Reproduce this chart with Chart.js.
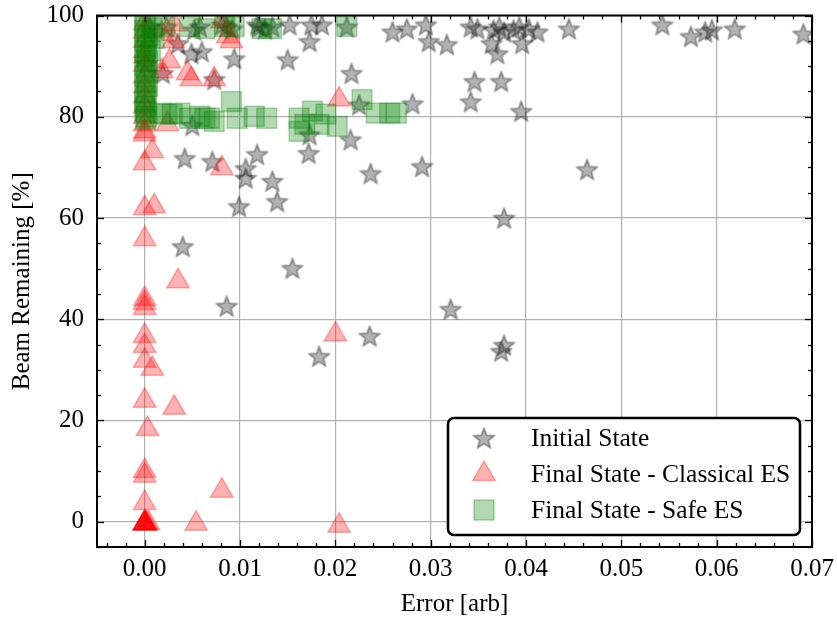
<!DOCTYPE html>
<html>
<head>
<meta charset="utf-8">
<title>Beam Remaining vs Error</title>
<style>
  html, body { margin: 0; background: #fff; }
  #wrap { width: 837px; height: 619px; }
</style>
</head>
<body>
<div id="wrap"><canvas id="chart" width="837" height="619"></canvas></div>
<script src="https://cdn.jsdelivr.net/npm/chart.js@4.4.1/dist/chart.umd.min.js"></script>
<script>
// initial state, before optimisation
const initialX = [0.0023, 0.0052, 0.0058, 0.0081, 0.0086, 0.0092, 0.0118, 0.0126, 0.0120, 0.0134,
  0.0152, 0.0175, 0.0186, 0.0212, 0.0049, 0.0060, 0.0094, 0.0002, 0.0019, 0.0073,
  0.0173, 0.0150, 0.0217, 0.0260, 0.0275, 0.0295, 0.0298, 0.0317, 0.0342, 0.0349,
  0.0366, 0.0372, 0.0377, 0.0364, 0.0370, 0.0393, 0.0396, 0.0403, 0.0412, 0.0387,
  0.0445, 0.0543, 0.0573, 0.0588, 0.0595, 0.0619, 0.0691, 0.0346, 0.0374, 0.0342,
  0.0395, 0.0225, 0.0281, 0.0050, 0.0173, 0.0216, 0.0172, 0.0042, 0.0071, 0.0106,
  0.0106, 0.0118, 0.0134, 0.0139, 0.0099, 0.0237, 0.0291, 0.0464, 0.0377, 0.0040,
  0.0155, 0.0086, 0.0321, 0.0236, 0.0183, 0.0377, 0.0374, 0.0005, 0.0035];
const initialY = [97.8, 97.2, 97.8, 98.2, 97.8, 97.4, 98.2, 97.4, 97.8, 97.8,
  98.2, 98.2, 98.2, 97.8, 92.5, 92.9, 91.5, 90.5, 88.6, 87.4,
  94.9, 91.3, 88.6, 96.8, 97.4, 98.2, 94.9, 94.3, 97.8, 97.4,
  97.2, 97.8, 96.8, 94.5, 92.5, 97.8, 94.5, 97.4, 96.8, 97.2,
  97.4, 98.2, 95.9, 96.8, 97.2, 97.4, 96.4, 87.0, 87.0, 83.0,
  81.1, 82.4, 82.6, 78.3, 76.5, 75.5, 72.8, 71.8, 71.2, 69.8,
  67.9, 72.6, 67.3, 63.3, 62.3, 68.8, 70.2, 69.6, 60.0, 54.4,
  50.1, 42.6, 42.0, 36.7, 32.7, 34.9, 33.7, 97.8, 94.5];

// final state, classical extremum seeking
const classicalX = [0, 0, 0, 0, 0, 0, 0, 0, 0, 0,
  0, 0, 0, 0, 0, 0, 0, 0, 0, 0,
  0, 0, 0, 0, 0, 0, 0, 0, 0, 0,
  0, 0, 0, 0.0008, 0.0024, 0.0018, 0.0031, 0.0030, 0.0026, 0.0018,
  0.0045, 0.0049, 0.0073, 0.0081, 0.0087, 0.0091, 0.0081, 0.0010, 0.0035, 0.0008,
  0.0031, 0.0003, 0.0081, 0.0054, 0.0204, 0.0200, 0.0204, 0.0002, 0.0004];
const classicalY = [98.5, 96.8, 95.0, 93.0, 91.9, 90.3, 88.0, 86.0, 84.0, 82.0,
  80.0, 78.5, 77.1, 76.5, 70.8, 61.9, 55.8, 44.0, 43.2, 42.2,
  36.7, 34.7, 31.8, 23.9, 10.0, 9.1, 3.7, -0.3, -0.3, -0.3,
  -0.3, -0.3, -0.3, 73.2, 78.5, 96.4, 98.2, 94.9, 90.9, 89.0,
  88.6, 87.4, 87.4, 98.8, 95.9, 94.9, 69.8, 62.3, 47.5, 30.2,
  22.5, 18.3, 6.1, -0.4, -0.8, 37.0, 83.4, -0.3, -0.3];

// final state, safe extremum seeking
const safeX = [0, 0.0001, 0, 0.0003, 0, 0.0002, 0, 0.0001, 0.0003, 0,
  0.0002, 0, 0.0001, 0.0003, 0, 0.0002, 0, 0.0001, 0, 0.0002,
  0.0001, 0.0008, 0.0010, 0.0006,
  0.0021, 0.0047, 0.0063, 0.0084, 0.0094, 0.0123, 0.0133, 0.0212,
  0.0016, 0.0023, 0.0029, 0.0037, 0.0047, 0.0058, 0.0063, 0.0068, 0.0073, 0.0091,
  0.0097, 0.0115, 0.0128, 0.0162, 0.0162, 0.0176, 0.0183, 0.0190, 0.0202, 0.0228,
  0.0243, 0.0257, 0.0264, 0.0168];
const safeY = [99.0, 98.0, 97.0, 96.0, 95.0, 94.0, 93.0, 92.0, 91.0, 90.0,
  89.0, 88.0, 87.0, 86.0, 85.0, 84.0, 83.0, 82.0, 81.0, 80.0,
  79.5, 97.5, 95.5, 93.0,
  97.8, 97.8, 97.4, 97.8, 97.8, 97.4, 97.4, 97.8,
  80.7, 80.5, 80.5, 80.7, 79.7, 80.1, 79.7, 79.7, 79.1, 83.0,
  79.7, 80.1, 79.7, 79.7, 77.1, 81.1, 78.5, 80.5, 78.1, 83.4,
  80.7, 80.7, 80.7, 78.5];

const xTicks = [0, 0.01, 0.02, 0.03, 0.04, 0.05, 0.06, 0.07];
const yTicks = [0, 20, 40, 60, 80, 100];
const seriesNames = ['Initial State', 'Final State - Classical ES', 'Final State - Safe ES'];

const FONT = "'Liberation Serif', 'DejaVu Serif', serif";
const grey = 'rgba(0,0,0,0.3)';
const red = 'rgba(255,0,0,0.3)';
const green = 'rgba(0,128,0,0.3)';

const pts = (xs, ys) => xs.map((x, i) => ({ x, y: ys[i] }));

// five-pointed star marker, drawn once and reused as a point image
function makeStar(r) {
  const c = document.createElement('canvas');
  const s = Math.ceil(r * 2 + 4);
  c.width = c.height = s;
  const g = c.getContext('2d');
  g.beginPath();
  for (let i = 0; i < 10; i++) {
    const rr = i % 2 ? r * 0.42 : r;
    const a = -Math.PI / 2 + i * Math.PI / 5;
    g.lineTo(s / 2 + rr * Math.cos(a), s / 2 + rr * Math.sin(a) + r * 0.1);
  }
  g.closePath();
  g.fillStyle = grey; g.fill();
  g.strokeStyle = grey; g.lineWidth = 2; g.lineJoin = 'round'; g.stroke();
  return c;
}
const star = makeStar(11);

// inward ticks on all four sides plus the black frame
const frame = {
  id: 'frame',
  afterDatasetsDraw(chart) {
    const { ctx, chartArea: a, scales: { x, y } } = chart;
    ctx.save();
    ctx.strokeStyle = '#000';
    ctx.lineWidth = 1.3;
    const seg = (x1, y1, x2, y2) => { ctx.beginPath(); ctx.moveTo(x1, y1); ctx.lineTo(x2, y2); ctx.stroke(); };
    for (let v = -0.004; v < 0.0701; v += 0.002) {
      const p = Math.round(x.getPixelForValue(v)) + 0.5;
      const major = xTicks.some(t => Math.abs(t - v) < 1e-6);
      const len = major ? 7 : 4;
      seg(p, a.bottom, p, a.bottom - len);
      seg(p, a.top, p, a.top + len);
    }
    for (let v = -5; v <= 100; v += 5) {
      const p = Math.round(y.getPixelForValue(v)) + 0.5;
      const len = yTicks.includes(v) ? 7 : 4;
      seg(a.left, p, a.left + len, p);
      seg(a.right, p, a.right - len, p);
    }
    ctx.lineWidth = 2;
    ctx.strokeRect(a.left, a.top, a.right - a.left, a.bottom - a.top);
    ctx.restore();
  }
};

// boxed legend sitting inside the plot, lower right
const boxLegend = {
  id: 'boxLegend',
  afterDraw(chart) {
    const ctx = chart.ctx;
    const bx = 448, by = 418, bw = 352, bh = 117;
    ctx.save();
    ctx.beginPath();
    ctx.roundRect(bx, by, bw, bh, 6);
    ctx.fillStyle = '#fff'; ctx.fill();
    ctx.lineWidth = 2.5; ctx.strokeStyle = '#000'; ctx.stroke();
    const rows = [438, 474, 510];
    const mx = 484;
    // star
    ctx.drawImage(star, mx - star.width / 2, rows[0] - star.height / 2);
    // triangle
    const r = 13;
    ctx.beginPath();
    ctx.moveTo(mx, rows[1] - r);
    ctx.lineTo(mx + r * 0.866, rows[1] + r / 2);
    ctx.lineTo(mx - r * 0.866, rows[1] + r / 2);
    ctx.closePath();
    ctx.fillStyle = red; ctx.fill();
    ctx.strokeStyle = red; ctx.lineWidth = 1.5; ctx.stroke();
    // square
    ctx.beginPath();
    ctx.rect(mx - 10, rows[2] - 10, 20, 20);
    ctx.fillStyle = green; ctx.fill();
    ctx.strokeStyle = green; ctx.stroke();
    ctx.fillStyle = '#000';
    ctx.font = '25.5px ' + FONT;
    ctx.textBaseline = 'middle';
    seriesNames.forEach((s, i) => ctx.fillText(s, 531, rows[i] + 1));
    ctx.restore();
  }
};

const tickFont = { family: FONT, size: 25 };

new Chart(document.getElementById('chart'), {
  type: 'scatter',
  data: {
    datasets: [
      { label: seriesNames[0], data: pts(initialX, initialY), pointStyle: star, pointRadius: 11, order: 3, clip: 0 },
      { label: seriesNames[1], data: pts(classicalX, classicalY), pointStyle: 'triangle', pointRadius: 13,
        backgroundColor: red, borderColor: red, borderWidth: 1.5, order: 2, clip: 0 },
      { label: seriesNames[2], data: pts(safeX, safeY), pointStyle: 'rect', pointRadius: 14,
        backgroundColor: green, borderColor: green, borderWidth: 1.5, order: 1, clip: 0 }
    ]
  },
  options: {
    responsive: false,
    animation: false,
    events: [],
    layout: { padding: { top: 14, right: 25, left: 0, bottom: 0 } },
    plugins: { legend: { display: false }, tooltip: { enabled: false } },
    scales: {
      x: {
        type: 'linear', min: -0.005, max: 0.07,
        afterBuildTicks: s => { s.ticks = xTicks.map(v => ({ value: v })); },
        afterFit: s => { s.height = 72; s.paddingLeft = 0; s.paddingRight = 0; },
        ticks: { callback: v => v.toFixed(2), font: tickFont, color: '#000', padding: 7, maxRotation: 0, autoSkip: false },
        grid: { color: '#b0b0b0', lineWidth: 1.2, drawTicks: false },
        border: { display: false },
        title: { display: true, text: 'Error [arb]', font: tickFont, color: '#000', padding: { top: 0, bottom: 0 } }
      },
      y: {
        type: 'linear', min: -5, max: 100,
        afterBuildTicks: s => { s.ticks = yTicks.map(v => ({ value: v })); },
        afterFit: s => { s.width = 97; s.paddingTop = 0; s.paddingBottom = 0; },
        ticks: { callback: v => String(v), font: tickFont, color: '#000', padding: 13, autoSkip: false },
        grid: { color: '#b0b0b0', lineWidth: 1.2, drawTicks: false },
        border: { display: false },
        title: { display: true, text: 'Beam Remaining [%]', font: tickFont, color: '#000', padding: { top: 7, bottom: 0 } }
      }
    }
  },
  plugins: [frame, boxLegend]
});
</script>
</body>
</html>
